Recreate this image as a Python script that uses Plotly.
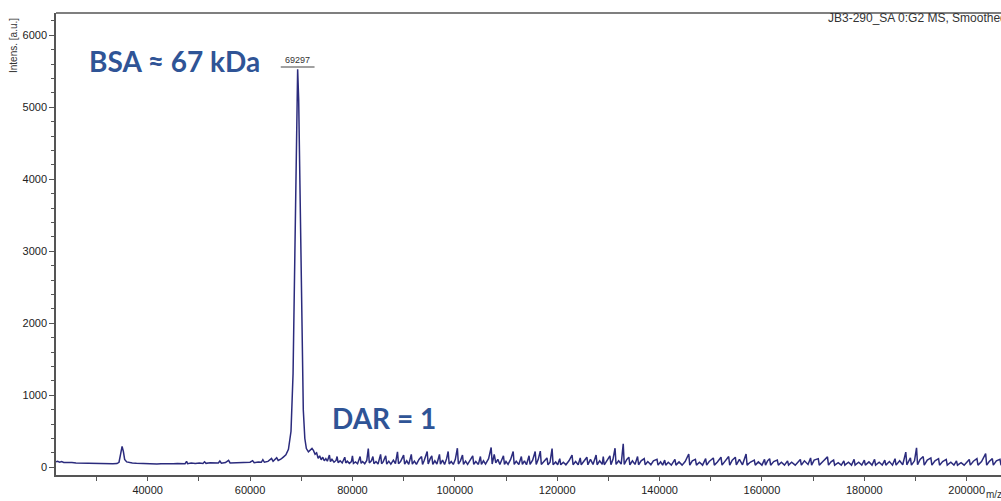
import plotly.graph_objects as go

# Niedriger Massenbereich inkl. Halbmassen-Peak bei ~35 kDa
low_region = [
    (22090, 78), (22400, 84), (22800, 72), (23200, 80), (23600, 68), (24000, 70),
    (24600, 64), (25200, 66), (26000, 60), (26800, 58), (27600, 54), (28400, 56),
    (29200, 50), (30000, 53), (30800, 48), (31600, 51), (32400, 47), (33200, 50),
    (34000, 52), (34400, 70), (34700, 180), (35000, 290), (35250, 220), (35500, 110),
    (35900, 75), (36400, 66), (37000, 60), (37800, 55), (38600, 52), (39400, 50),
    (40200, 48), (41000, 51), (41800, 47), (42600, 50), (43400, 46), (44200, 52),
    (45000, 48), (45800, 51), (46600, 55), (47300, 50), (47600, 82), (47800, 50),
    (48500, 58), (49300, 52), (50100, 60), (50800, 54), (51100, 76), (51400, 55),
    (52200, 62), (53000, 56), (53800, 60), (54100, 88), (54400, 58), (55200, 66),
    (55800, 96), (56100, 60), (56900, 60), (57700, 66), (58500, 60), (59300, 68),
    (60000, 70), (60500, 92), (60800, 64), (61600, 74), (62200, 70), (62500, 106),
    (62800, 70), (63500, 82), (64200, 122), (64500, 84), (65200, 132), (65500, 95),
    (66000, 112), (66500, 142), (67000, 172),
]

# Hauptpeak BSA (69297) mit Schulter
main_peak = [
    (67500, 250), (68000, 500), (68400, 1300), (68800, 3300), (69100, 5000),
    (69297, 5530), (69500, 5100), (69800, 3600), (70100, 1800), (70400, 800),
    (70700, 400), (71000, 260), (71400, 215), (71800, 240), (72100, 262),
    (72400, 232), (72700, 182),
]

# Rauschen / kleine Signale oberhalb des Hauptpeaks
tail_a = [
    (73000, 200), (73300, 125), (73600, 160), (73900, 105), (74200, 140), (74500, 90),
    (74800, 120), (75100, 85), (75500, 170), (75700, 80), (76000, 110), (76400, 70),
    (76800, 95), (77000, 150), (77200, 65), (77600, 90), (78000, 60), (78500, 140),
    (78700, 60), (79000, 85), (79400, 55), (79800, 80), (80000, 160), (80200, 55),
    (80600, 75), (81000, 50), (81500, 150), (81700, 55), (82000, 80), (82400, 50),
    (82800, 95), (83100, 260), (83300, 60), (83700, 90), (84000, 150), (84200, 50),
    (84600, 80), (85000, 45), (85500, 180), (85700, 50), (86000, 75), (86500, 160),
    (86700, 45), (87100, 85), (87500, 45), (88000, 100), (88400, 50), (88800, 215),
    (89000, 50), (89400, 80), (90000, 170), (90200, 45), (90600, 90), (91000, 40),
    (91500, 180), (91700, 45), (92100, 85), (92500, 40), (93000, 110), (93500, 150),
    (93700, 40), (94000, 90), (94600, 220), (94800, 45), (95200, 120), (95500, 160),
    (95700, 40), (96100, 90), (96500, 45), (97000, 180), (97200, 45), (97600, 100),
    (98000, 40), (98400, 120), (98700, 220), (98900, 45), (99300, 80), (99700, 40),
    (100100, 110), (100500, 265), (100700, 45), (101100, 90), (101500, 170), (101700, 40),
    (102100, 85), (102500, 40), (103000, 100), (103500, 160), (103700, 40), (104100, 80),
    (104600, 40), (105000, 150), (105200, 40), (105600, 90), (106000, 45), (106600, 120),
    (107100, 275), (107300, 45), (107700, 180), (108000, 60), (108400, 110), (108800, 40),
    (109500, 160), (109700, 40), (110000, 80),
]

tail_b = [
    (110400, 40), (110900, 110), (111400, 220), (111600, 40), (112000, 85), (112500, 40),
    (113000, 150), (113200, 40), (113600, 90), (114000, 35), (114500, 160), (114700, 40),
    (115200, 100), (115700, 220), (115900, 40), (116300, 110), (116700, 225), (116900, 40),
    (117400, 80), (118000, 130), (118200, 35), (118600, 70), (119000, 260), (119200, 35),
    (119700, 75), (120100, 35), (120500, 120), (120700, 35), (121200, 70), (121700, 35),
    (122300, 90), (122900, 170), (123100, 35), (123600, 80), (124100, 35), (124500, 130),
    (124700, 35), (125200, 90), (125800, 140), (126000, 35), (126500, 110), (127000, 40),
    (127600, 170), (127800, 35), (128300, 90), (128800, 40), (129000, 150), (129200, 35),
    (129700, 100), (130300, 160), (130500, 35), (130900, 110), (131300, 265), (131500, 40),
    (132000, 90), (132500, 45), (132900, 325), (133100, 40), (133600, 110), (134000, 140),
    (134200, 35), (134700, 90), (135200, 40), (135700, 150), (135900, 35), (136400, 90),
    (137000, 120), (137200, 35), (137700, 80), (138300, 35), (138800, 90), (139500, 110),
    (139700, 30), (140200, 75), (140600, 30), (141000, 100), (141200, 30), (141700, 70),
    (142300, 30), (143000, 110), (143200, 30), (143800, 75), (144400, 30), (145000, 80),
    (145700, 185), (145900, 30), (146400, 90), (147000, 110), (147200, 30), (147800, 70),
    (148400, 30), (149000, 120), (149200, 30), (149700, 80),
]

tail_c = [
    (150500, 130), (150700, 30), (151300, 75), (152000, 140), (152200, 30), (152800, 90),
    (153500, 150), (153700, 30), (154200, 100), (154800, 140), (155000, 35), (155600, 110),
    (156200, 35), (156900, 185), (157100, 30), (157700, 70), (158500, 100), (158700, 30),
    (159300, 75), (160000, 30), (160500, 110), (160700, 30), (161100, 90), (161500, 120),
    (161700, 30), (162300, 80), (163000, 100), (163200, 30), (163800, 70), (164400, 30),
    (165000, 90), (165200, 30), (165800, 70), (166500, 30), (167500, 110), (167700, 30),
    (168300, 90), (169000, 40), (169500, 130), (169700, 30), (170200, 100), (171000, 120),
    (171200, 30), (171900, 80), (172800, 145), (173000, 30), (173500, 75), (174000, 100),
    (174200, 30), (174900, 65), (175500, 30), (176000, 90), (176200, 30), (176900, 70),
    (177500, 30), (178000, 110), (178200, 30), (178900, 70), (179500, 30), (180000, 100),
    (180200, 30), (180900, 75), (181500, 30), (182000, 110), (182200, 30), (182900, 70),
    (183500, 30), (184000, 100), (184200, 30), (184900, 80), (185500, 30), (186000, 120),
    (186200, 30), (186900, 90), (187500, 35), (188100, 210), (188300, 35), (189000, 130),
    (189200, 30), (189800, 90), (190200, 270), (190400, 35), (190900, 110), (191500, 150),
    (191700, 30), (192300, 100), (193000, 130), (193200, 30), (193800, 90), (194500, 120),
    (194700, 30), (195300, 80), (196000, 110), (196200, 30), (196900, 70), (197500, 30),
    (198000, 90), (198200, 30), (198900, 65), (199500, 30), (200500, 110), (200700, 30),
    (201300, 85), (202000, 120), (202200, 30), (202900, 80), (203700, 190), (203900, 30),
    (204400, 80), (205000, 120), (205200, 30), (205800, 90), (206500, 110), (206700, 30),
    (207000, 60),
]

peak_mz = 69297           # beschrifteter Peak
peak_label_int = 5560     # Höhe der Beschriftungslinie

# -- Daten zusammenführen ------------------------------------------------------
spectrum = low_region + main_peak + tail_a + tail_b + tail_c
mz = [p[0] for p in spectrum]
intens = [p[1] for p in spectrum]

# -- Plot ----------------------------------------------------------------------
fig = go.Figure()
fig.add_trace(go.Scatter(
    x=mz, y=intens,
    mode="lines",
    line=dict(color="#2b2b7d", width=1.5),
    showlegend=False,
    hoverinfo="skip",
))

axis_font = dict(family="Arial, Liberation Sans, sans-serif", size=11, color="#222222")

fig.update_xaxes(
    range=[22090, 206700],
    tickmode="linear", tick0=0, dtick=20000, tickformat="d",
    ticks="outside", ticklen=4, tickcolor="#555555", tickwidth=1,
    minor=dict(dtick=10000, tick0=0, ticks="outside", ticklen=4, tickcolor="#555555"),
    showline=True, linecolor="#555555", linewidth=1.5, mirror=False,
    showgrid=False, zeroline=False,
    tickfont=axis_font,
)
fig.update_yaxes(
    range=[-107, 6310],
    tickmode="linear", tick0=0, dtick=1000, tickformat="d",
    ticks="outside", ticklen=5, tickcolor="#555555", tickwidth=1,
    minor=dict(dtick=200, tick0=0, ticks="outside", ticklen=3, tickcolor="#555555"),
    showline=True, linecolor="#555555", linewidth=1.5,
    showgrid=False, zeroline=False,
    tickfont=axis_font,
)

# obere Rahmenlinie
fig.add_shape(type="line", xref="paper", yref="paper", x0=0, x1=1, y0=1, y1=1,
              line=dict(color="#555555", width=1.5))

# Beschriftung des Peaks mit Linie
fig.add_shape(type="line", xref="x", yref="y",
              x0=peak_mz - 3300, x1=peak_mz + 3300, y0=peak_label_int, y1=peak_label_int,
              line=dict(color="#444444", width=1.2))
fig.add_annotation(x=peak_mz, y=peak_label_int, xref="x", yref="y",
                   text=str(peak_mz), showarrow=False, yanchor="bottom", yshift=0,
                   font=dict(family="Arial, Liberation Sans, sans-serif", size=9, color="#333333"))

blue_font = dict(family="Lato, Open Sans, sans-serif", size=28, color="#2f5496")
fig.add_annotation(x=87, y=61, xref="paper", yref="paper", text="<b>BSA ≈ 67 kDa</b>",
                   showarrow=False, xanchor="left", yanchor="middle", font=blue_font)
fig.add_annotation(x=330, y=418, xref="paper", yref="paper", text="<b>DAR = 1</b>",
                   showarrow=False, xanchor="left", yanchor="middle", font=blue_font)

small_font = dict(family="Arial, Liberation Sans, sans-serif", size=10, color="#333333")
fig.add_annotation(x=14, y=46, xref="paper", yref="paper", text="Intens. [a.u.]",
                   textangle=-90, showarrow=False, xanchor="center", yanchor="middle",
                   font=small_font)
fig.add_annotation(x=984, y=494, xref="paper", yref="paper", text="m/z",
                   showarrow=False, xanchor="left", yanchor="middle", font=small_font)
fig.add_annotation(x=826, y=18, xref="paper", yref="paper",
                   text="JB3-290_SA 0:G2 MS, Smoothed",
                   showarrow=False, xanchor="left", yanchor="middle",
                   font=dict(family="Arial, Liberation Sans, sans-serif", size=12, color="#333333"))

W, H = 1001, 501
L, T, B, R = 56, 13, 26, 0

# Pixelpositionen der Texte in Papierkoordinaten umrechnen
for ann in fig.layout.annotations:
    if ann.xref == "paper":
        ann.x = (ann.x - L) / (W - L - R)
        ann.y = 1 - (ann.y - T) / (H - T - B)

fig.update_layout(
    width=W, height=H,
    margin=dict(l=L, r=R, t=T, b=B, autoexpand=False),
    plot_bgcolor="white", paper_bgcolor="white",
)

# Body-Rand entfernen, damit die Figur bündig im Fenster sitzt
fig.write_html("out.html",
               config={"displayModeBar": False},
               post_script="document.body.style.margin='0';document.body.style.overflow='hidden';")
